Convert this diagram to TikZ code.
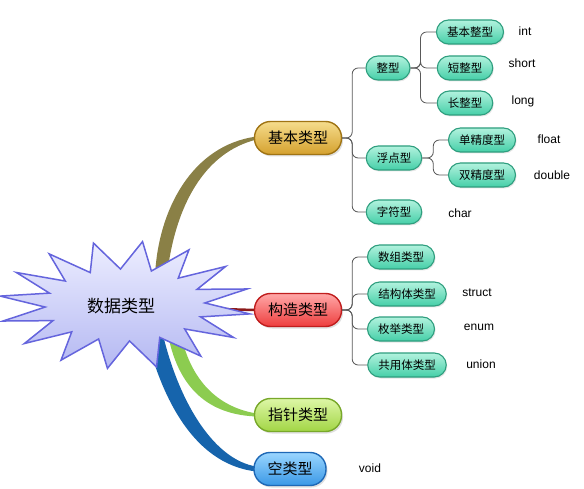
\documentclass[tikz,border=0pt]{standalone}
\usepackage{fontspec}
\setmainfont{Liberation Sans}
\newfontfamily\cjk{Noto Sans CJK SC}
\usetikzlibrary{calc,backgrounds,shadows}

\definecolor{tealfill}{HTML}{45CFA8}
\definecolor{teallight}{HTML}{B2F2DE}
\definecolor{tealline}{HTML}{2E9E7E}
\definecolor{goldfill}{HTML}{D4A12E}
\definecolor{goldlight}{HTML}{F6DC8C}
\definecolor{goldline}{HTML}{A07414}
\definecolor{redfill}{HTML}{EE3E3E}
\definecolor{redlight}{HTML}{FFA8A8}
\definecolor{redline}{HTML}{C01E1E}
\definecolor{greenfill}{HTML}{A2D645}
\definecolor{greenlight}{HTML}{DDF6A6}
\definecolor{greenline}{HTML}{78A82A}
\definecolor{bluefill}{HTML}{3A98E6}
\definecolor{bluelight}{HTML}{9AD6FF}
\definecolor{blueline}{HTML}{1E68B6}
\definecolor{starfill}{HTML}{B4B8F2}
\definecolor{starlight}{HTML}{EDEEFF}
\definecolor{starline}{HTML}{6565DD}
\definecolor{oliveribbon}{RGB}{138,128,70}
\definecolor{redribbon}{RGB}{140,26,26}
\definecolor{greenribbon}{RGB}{140,204,80}
\definecolor{blueribbon}{RGB}{22,100,172}

\tikzset{
    leaf/.style={rectangle, rounded corners=12pt, draw=tealline, line width=1.1pt,
        top color=teallight, bottom color=tealfill, minimum height=24pt, inner xsep=10.5pt,
        font=\cjk\fontsize{11.5}{12}\selectfont,
        drop shadow={opacity=0.2, shadow xshift=1pt, shadow yshift=-1.5pt}},
    main/.style={rectangle, rounded corners=16pt, line width=1.4pt,
        minimum height=33pt, inner xsep=13.5pt, font=\cjk\fontsize{15}{16}\selectfont,
        drop shadow={opacity=0.25, shadow xshift=1.5pt, shadow yshift=-2pt}},
    keyword/.style={font=\fontsize{12}{14}\selectfont},
    branch/.style={draw=black!65, line width=0.8pt, rounded corners=6pt},
}

\begin{document}
\begin{tikzpicture}[x=1pt, y=-1pt]
    \useasboundingbox (0,0) rectangle (584,489);
    % Root
    \node[font=\cjk\fontsize{17}{18}\selectfont] (root) at (121,306) {数据类型};
    % Main types
    \node[main, draw=goldline, top color=goldlight, bottom color=goldfill] (basic) at (298,138) {基本类型};
    \node[main, draw=redline, top color=redlight, bottom color=redfill] (constr) at (298,310) {构造类型};
    \node[main, draw=greenline, top color=greenlight, bottom color=greenfill] (pointer) at (298,415) {指针类型};
    \node[main, draw=blueline, top color=bluelight, bottom color=bluefill] (empty) at (290,469) {空类型};
    % Basic types
    \node[leaf] (integer) at (388,68) {整型};
    \node[leaf] (floating) at (394,158) {浮点型};
    \node[leaf] (character) at (394,212) {字符型};
    \node[leaf] (int1) at (470,32) {基本整型};
    \node[leaf] (int2) at (465,68) {短整型};
    \node[leaf] (int3) at (465,103) {长整型};
    \node[leaf] (flt1) at (482,140) {单精度型};
    \node[leaf] (flt2) at (482,175) {双精度型};
    % Constructed types
    \node[leaf] (con1) at (401,257) {数组类型};
    \node[leaf] (con2) at (407,294) {结构体类型};
    \node[leaf] (con3) at (401,329) {枚举类型};
    \node[leaf] (con4) at (407,365) {共用体类型};
    % Keywords
    \node[keyword] (kInt) at (525,31) {int};
    \node[keyword] (kShort) at (522,63) {short};
    \node[keyword] (kLong) at (523,101) {long};
    \node[keyword] (kFloat) at (549,139) {float};
    \node[keyword] (kDouble) at (552,175) {double};
    \node[keyword] (kChar) at (460,213) {char};
    \node[keyword] (kStruct) at (477,293) {struct};
    \node[keyword] (kEnum) at (479,327) {enum};
    \node[keyword] (kUnion) at (481,364) {union};
    \node[keyword] (kVoid) at (370,468) {void};
    % Branch lines
    \foreach \child in {integer, floating, character}
        \draw[branch] (basic.east) -- ++(10,0) |- (\child.west);
    \foreach \child in {int1, int2, int3}
        \draw[branch] (integer.east) -- ++(10,0) |- (\child.west);
    \foreach \child in {flt1, flt2}
        \draw[branch] (floating.east) -- ++(11,0) |- (\child.west);
    \foreach \child in {con1, con2, con3, con4}
        \draw[branch] (constr.east) -- ++(10,0) |- (\child.west);
    % Ribbons and star
    \begin{scope}[on background layer]
        \fill[white] (0,0) rectangle (584,489);
        \fill[oliveribbon] ($(root)+(34,-30)$) .. controls (158,210) and (192,145) .. ($(basic.west)+(3,-1.5)$)
            -- ($(basic.west)+(3,1.5)$) .. controls (205,152) and (175,205) .. ($(root)+(46,-30)$) -- cycle;
        \draw[redribbon, line width=2.5pt] (root) -- (constr.west);
        \fill[greenribbon] ($(root)+(60,29)$) .. controls (192,385) and (222,408) .. ($(pointer.west)+(3,-1.5)$)
            -- ($(pointer.west)+(3,1.5)$) .. controls (215,415) and (180,395) .. ($(root)+(47,29)$) -- cycle;
        \fill[blueribbon] ($(root)+(42,29)$) .. controls (180,405) and (215,460) .. ($(empty.west)+(3,-2.5)$)
            -- ($(empty.west)+(3,2.5)$) .. controls (200,465) and (165,410) .. ($(root)+(25,29)$) -- cycle;
        \filldraw[draw=starline, line width=1.5pt, top color=starlight, bottom color=starfill, shift={($(root)+(4,-1)$)}]
            plot[samples at={0,...,31}, variable=\k] ({cos(\k*11.25+8)*(126-46*mod(\k,2))}, {sin(\k*11.25+8)*(64-28*mod(\k,2))}) -- cycle;
    \end{scope}
\end{tikzpicture}
\end{document}
